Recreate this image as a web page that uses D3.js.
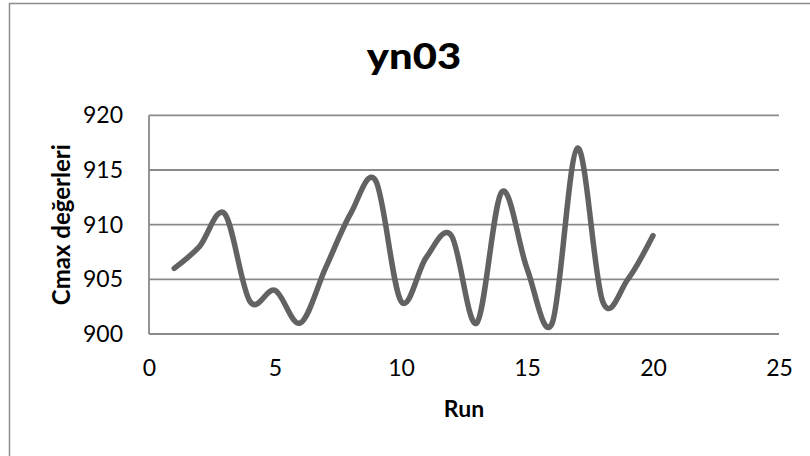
<!DOCTYPE html>
<html>
<head>
<meta charset="utf-8">
<script src="https://cdn.jsdelivr.net/npm/d3@7"></script>
<style>
  html, body { margin: 0; padding: 0; background: #fff; }
  svg { display: block; }
  text { font-family: Lato, "Open Sans", sans-serif; fill: #000; }
</style>
</head>
<body>
<svg id="chart" width="810" height="456"></svg>
<script>
// Run numbers and the Cmax value found in each run
const runs = [1, 2, 3, 4, 5, 6, 7, 8, 9, 10, 11, 12, 13, 14, 15, 16, 17, 18, 19, 20];
const cmax = [906, 908, 911, 903, 904, 901, 906, 911, 914, 903, 907, 909, 901, 913, 906, 901, 917, 903, 905, 909];

// Axis tick values
const xTicks = [0, 5, 10, 15, 20, 25];
const yTicks = [900, 905, 910, 915, 920];

const chartTitle = "yn03";
const xTitle = "Run";
const yTitle = "Cmax değerleri";

const svg = d3.select("#chart");

// Chart border
svg.append("rect")
  .attr("x", 9.5).attr("y", 3.5)
  .attr("width", 820).attr("height", 470)
  .attr("fill", "#fff")
  .attr("stroke", "#8c8c8c")
  .attr("stroke-width", 1.5);

const plot = { left: 149, right: 779, top: 115.3, bottom: 334 };

const x = d3.scaleLinear().domain([0, 25]).range([plot.left, plot.right]);
const y = d3.scaleLinear().domain([900, 920]).range([plot.bottom, plot.top]);

// Horizontal gridlines
svg.append("g")
  .selectAll("line")
  .data(yTicks)
  .join("line")
  .attr("x1", plot.left).attr("x2", plot.right)
  .attr("y1", d => y(d)).attr("y2", d => y(d))
  .attr("stroke", "#8a8a8a")
  .attr("stroke-width", 1.8);

// Vertical axis line
svg.append("line")
  .attr("x1", plot.left).attr("x2", plot.left)
  .attr("y1", y(920)).attr("y2", y(900))
  .attr("stroke", "#8a8a8a")
  .attr("stroke-width", 1.8);

// Y axis labels
const yAxis = d3.axisLeft(y).tickValues(yTicks).tickSize(0).tickPadding(26);
svg.append("g")
  .attr("transform", `translate(${plot.left},0)`)
  .call(yAxis)
  .call(g => g.select(".domain").remove())
  .call(g => g.selectAll("text")
    .style("font-family", "Lato, 'Open Sans', sans-serif")
    .style("font-size", "23px")
    .attr("fill", "#000"));

// X axis labels
const xAxis = d3.axisBottom(x).tickValues(xTicks).tickSize(0).tickPadding(26);
svg.append("g")
  .attr("transform", `translate(0,${plot.bottom})`)
  .call(xAxis)
  .call(g => g.select(".domain").remove())
  .call(g => g.selectAll("text")
    .style("font-family", "Lato, 'Open Sans', sans-serif")
    .style("font-size", "23px")
    .attr("fill", "#000"));

// Smoothed series line
const line = d3.line()
  .x((d, i) => x(runs[i]))
  .y(d => y(d))
  .curve(d3.curveCatmullRom.alpha(0));

svg.append("path")
  .datum(cmax)
  .attr("d", line)
  .attr("fill", "none")
  .attr("stroke", "#626262")
  .attr("stroke-width", 5.5)
  .attr("stroke-linecap", "round")
  .attr("stroke-linejoin", "round");

// Chart title
svg.append("text")
  .attr("transform", "translate(414,69) scale(1.16,1)")
  .attr("text-anchor", "middle")
  .style("font-weight", "900")
  .style("font-size", "36px")
  .text(chartTitle);

// X axis title
svg.append("text")
  .attr("x", (plot.left + plot.right) / 2)
  .attr("y", 417)
  .attr("text-anchor", "middle")
  .style("font-weight", "bold")
  .style("font-size", "23px")
  .text(xTitle);

// Y axis title
svg.append("text")
  .attr("transform", `translate(70,${(plot.top + plot.bottom) / 2}) rotate(-90)`)
  .attr("text-anchor", "middle")
  .style("font-weight", "bold")
  .style("font-size", "24px")
  .text(yTitle);
</script>
</body>
</html>
